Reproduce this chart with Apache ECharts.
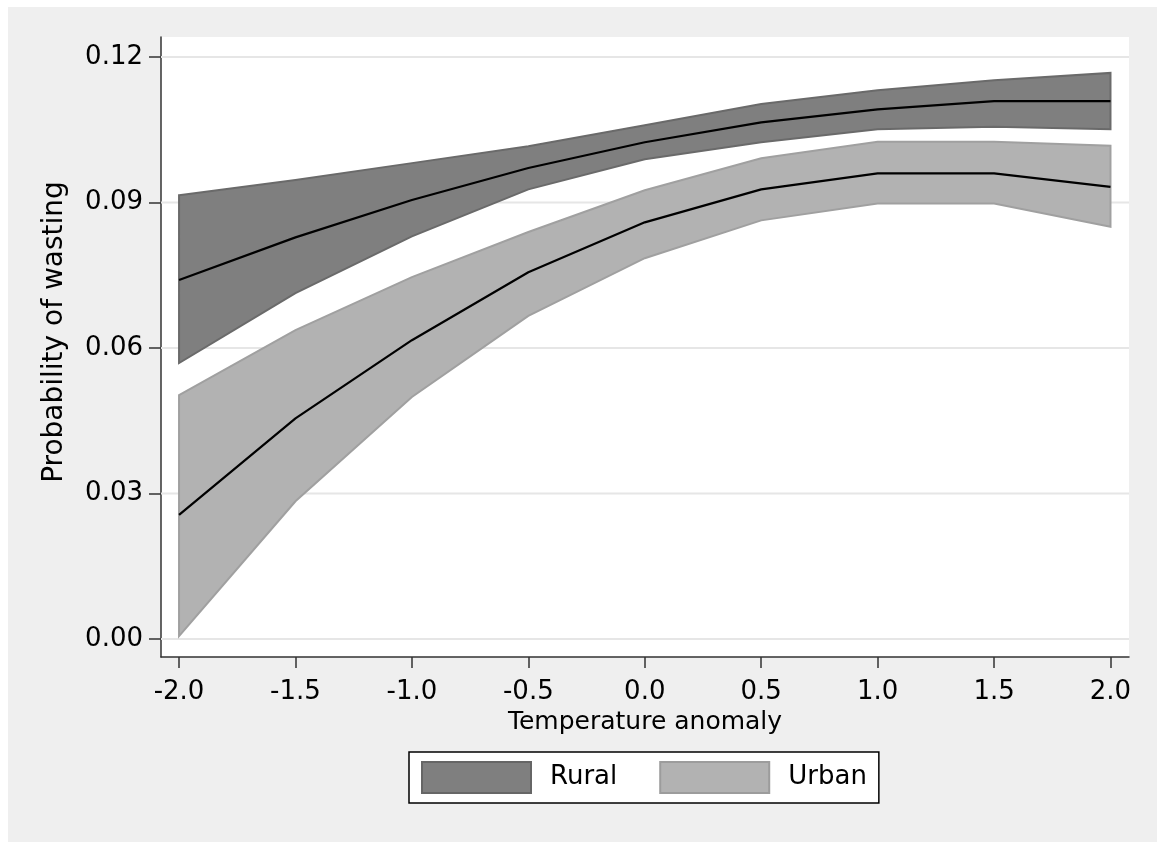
<!DOCTYPE html>
<html>
<head>
<meta charset="utf-8">
<script src="https://cdn.jsdelivr.net/npm/echarts@6/dist/echarts.min.js"></script>
<style>html,body{margin:0;padding:0;background:#fff;}#c{width:1157px;height:842px;}</style>
</head>
<body>
<div id="c"></div>
<script>
var xValues = [-2.0, -1.5, -1.0, -0.5, 0.0, 0.5, 1.0, 1.5, 2.0];
var ruralMean  = [0.0740, 0.0828, 0.0905, 0.0971, 0.1024, 0.1065, 0.1092, 0.1109, 0.1109];
var ruralUpper = [0.0915, 0.0946, 0.0981, 0.1016, 0.1059, 0.1103, 0.1131, 0.1152, 0.1167];
var ruralLower = [0.0569, 0.0713, 0.0830, 0.0927, 0.0989, 0.1024, 0.1051, 0.1056, 0.1051];
var urbanMean  = [0.0256, 0.0455, 0.0616, 0.0756, 0.0859, 0.0927, 0.0960, 0.0960, 0.0932];
var urbanUpper = [0.0503, 0.0637, 0.0746, 0.0839, 0.0925, 0.0991, 0.1025, 0.1025, 0.1017];
var urbanLower = [0.0006, 0.0284, 0.0499, 0.0666, 0.0785, 0.0863, 0.0898, 0.0898, 0.0850];
var yTicks = [0.00, 0.03, 0.06, 0.09, 0.12];
var xTicks = [-2.0, -1.5, -1.0, -0.5, 0.0, 0.5, 1.0, 1.5, 2.0];

var FONT = 'DejaVu Sans';
var X_MIN = -2.0775, X_MAX = 2.0795;

function bandSeries(name, lower, upper, fill, stroke) {
  var data = xValues.map(function (x, i) { return [x, lower[i], upper[i]]; });
  return {
    name: name,
    type: 'custom',
    silent: true,
    data: data,
    encode: { x: 0, y: [1, 2] },
    renderItem: function (params, api) {
      if (params.dataIndex !== 0) return null;
      var pts = [];
      for (var i = 0; i < xValues.length; i++) pts.push(api.coord([xValues[i], upper[i]]));
      for (var j = xValues.length - 1; j >= 0; j--) pts.push(api.coord([xValues[j], lower[j]]));
      return {
        type: 'polygon',
        shape: { points: pts },
        style: { fill: fill, stroke: stroke, lineWidth: 2 }
      };
    },
    z: 3
  };
}

function meanSeries(name, vals) {
  return {
    name: name + ' mean',
    type: 'line',
    data: xValues.map(function (x, i) { return [x, vals[i]]; }),
    symbol: 'none',
    silent: true,
    lineStyle: { color: '#000', width: 2.2 },
    z: 4
  };
}

var chart = echarts.init(document.getElementById('c'));
chart.setOption({
  animation: false,
  backgroundColor: '#ffffff',
  graphic: [
    { type: 'rect', shape: { x: 8, y: 7, width: 1149, height: 835 }, style: { fill: '#efefef' }, z: -10, silent: true },
    { type: 'rect', shape: { x: 161, y: 37, width: 968, height: 620 }, style: { fill: '#ffffff' }, z: -9, silent: true }
  ],
  grid: { left: 161, right: 28, top: 37, bottom: 185, containLabel: false },
  legend: {
    left: 409, top: 752,
    padding: [9, 12, 9, 12],
    itemGap: 42,
    itemWidth: 109, itemHeight: 31,
    backgroundColor: '#ffffff',
    borderColor: '#000', borderWidth: 1.5, borderRadius: 0,
    selectedMode: false,
    textStyle: { fontFamily: FONT, fontSize: 26, color: '#000', padding: [0, 0, 0, 14] },
    data: [
      { name: 'Rural', icon: 'rect', itemStyle: { color: '#7f7f7f', borderColor: '#666666', borderWidth: 2 } },
      { name: 'Urban', icon: 'rect', itemStyle: { color: '#b2b2b2', borderColor: '#9c9c9c', borderWidth: 2 } }
    ]
  },
  xAxis: {
    type: 'value',
    min: X_MIN, max: X_MAX,
    name: 'Temperature anomaly',
    nameLocation: 'middle',
    nameGap: 48,
    nameTextStyle: { fontFamily: FONT, fontSize: 25, color: '#000' },
    axisLine: { show: true, onZero: false, lineStyle: { color: '#333', width: 1.5 } },
    axisTick: { show: true, length: 11, customValues: xTicks, lineStyle: { color: '#333', width: 1.5 } },
    axisLabel: { customValues: xTicks, margin: 22, fontFamily: FONT, fontSize: 26, color: '#000',
      formatter: function (v) { return v.toFixed(1); } },
    splitLine: { show: false }
  },
  yAxis: {
    type: 'value',
    min: -0.0037, max: 0.1241,
    name: 'Probability of wasting',
    nameLocation: 'middle',
    nameGap: 92,
    nameTextStyle: { fontFamily: FONT, fontSize: 28, color: '#000', padding: [0, 0, 0, 30] },
    axisLine: { show: true, onZero: false, lineStyle: { color: '#333', width: 1.5 } },
    axisTick: { show: true, length: 12, customValues: yTicks, lineStyle: { color: '#333', width: 1.5 } },
    axisLabel: { customValues: yTicks, margin: 18, fontFamily: FONT, fontSize: 26, color: '#000',
      formatter: function (v) { return v.toFixed(2); } },
    splitLine: { show: false }
  },
  series: [
    {
      name: 'gridlines',
      type: 'custom',
      silent: true,
      data: yTicks.map(function (v) { return [v]; }),
      encode: { y: 0 },
      renderItem: function (params, api) {
        var v = api.value(0);
        var p1 = api.coord([X_MIN, v]);
        var p2 = api.coord([X_MAX, v]);
        return {
          type: 'line',
          shape: { x1: p1[0], y1: p1[1], x2: p2[0], y2: p2[1] },
          style: { stroke: '#e6e6e6', lineWidth: 2 }
        };
      },
      z: 1
    },
    bandSeries('Rural', ruralLower, ruralUpper, '#7f7f7f', '#6a6a6a'),
    bandSeries('Urban', urbanLower, urbanUpper, '#b2b2b2', '#a0a0a0'),
    meanSeries('Rural', ruralMean),
    meanSeries('Urban', urbanMean)
  ]
});
</script>
</body>
</html>
